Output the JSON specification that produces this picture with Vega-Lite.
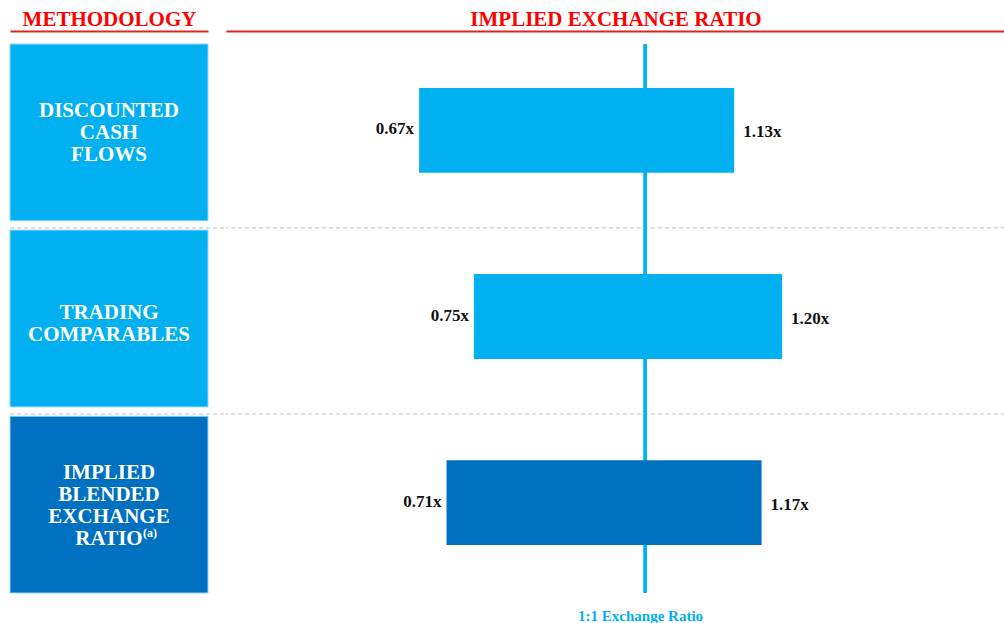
{
  "$schema": "https://vega.github.io/schema/vega-lite/v6.json",
  "padding": {"left": 9, "top": 8, "right": 0, "bottom": 0},
  "bounds": "flush",
  "spacing": 18,
  "config": {"view": {"stroke": null}, "font": "Liberation Serif"},
  "data": {
    "values": [
      {"method": "Discounted Cash Flows", "label": "DISCOUNTED\nCASH\nFLOWS", "lines": 3, "kind": "Component", "low": 0.67, "high": 1.13, "lowLabel": "0.67x", "highLabel": "1.13x"},
      {"method": "Trading Comparables", "label": "TRADING\nCOMPARABLES", "lines": 2, "kind": "Component", "low": 0.75, "high": 1.20, "lowLabel": "0.75x", "highLabel": "1.20x"},
      {"method": "Implied Blended Exchange Ratio", "label": "IMPLIED\nBLENDED\nEXCHANGE\nRATIO", "lines": 4, "note": "(a)", "kind": "Blended", "low": 0.71, "high": 1.17, "lowLabel": "0.71x", "highLabel": "1.17x"}
    ]
  },
  "hconcat": [
    {
      "width": 198,
      "height": 549,
      "resolve": {"axis": {"x": "independent"}},
      "layer": [
        {
          "transform": [{"filter": "datum.kind == 'Component'"}],
          "mark": {"type": "rule", "strokeDash": [4, 3], "color": "#d6d6d6", "strokeWidth": 1.5, "yOffset": 7, "x2Offset": 18},
          "encoding": {
            "y": {"field": "method", "type": "nominal", "sort": null, "bandPosition": 1, "axis": null, "scale": {"paddingInner": 0.05, "paddingOuter": 0}},
            "x": {"datum": 0, "type": "quantitative", "axis": null},
            "x2": {"datum": 1}
          }
        },
        {
          "mark": {"type": "bar", "stroke": "#8fd8f5", "strokeWidth": 1},
          "encoding": {
            "y": {"field": "method", "type": "nominal", "sort": null, "axis": null},
            "x": {
              "datum": 0, "type": "quantitative", "scale": {"domain": [0, 1]},
              "axis": {"orient": "top", "offset": 13, "domainColor": "#e02424", "domainWidth": 2, "ticks": false, "labels": false, "grid": false, "title": "METHODOLOGY", "titleColor": "#ff0000", "titleFont": "Liberation Serif", "titleFontSize": 21, "titleFontWeight": "bold", "titlePadding": 2}
            },
            "x2": {"datum": 1},
            "color": {"field": "kind", "type": "nominal", "scale": {"domain": ["Component", "Blended"], "range": ["#00b0f0", "#0070c0"]}, "legend": null}
          }
        },
        {
          "transform": [{"filter": "datum.lines == 3"}],
          "mark": {"type": "text", "color": "white", "fontSize": 21, "fontWeight": "bold", "lineBreak": "\n", "lineHeight": 22, "dy": -21, "font": "Liberation Serif"},
          "encoding": {
            "y": {"field": "method", "type": "nominal", "sort": null, "axis": null},
            "x": {"datum": 0.5, "type": "quantitative", "axis": null},
            "text": {"field": "label"}
          }
        },
        {
          "transform": [{"filter": "datum.lines == 2"}],
          "mark": {"type": "text", "color": "white", "fontSize": 21, "fontWeight": "bold", "lineBreak": "\n", "lineHeight": 22, "dy": -6, "font": "Liberation Serif"},
          "encoding": {
            "y": {"field": "method", "type": "nominal", "sort": null, "axis": null},
            "x": {"datum": 0.5, "type": "quantitative", "axis": null},
            "text": {"field": "label"}
          }
        },
        {
          "transform": [{"filter": "datum.lines == 4"}],
          "mark": {"type": "text", "color": "white", "fontSize": 21, "fontWeight": "bold", "lineBreak": "\n", "lineHeight": 22, "dy": -32, "font": "Liberation Serif"},
          "encoding": {
            "y": {"field": "method", "type": "nominal", "sort": null, "axis": null},
            "x": {"datum": 0.5, "type": "quantitative", "axis": null},
            "text": {"field": "label"}
          }
        },
        {
          "transform": [{"filter": "datum.lines == 4"}],
          "mark": {"type": "text", "color": "white", "fontSize": 12, "fontWeight": "bold", "align": "left", "dx": 34, "dy": 28, "font": "Liberation Serif"},
          "encoding": {
            "y": {"field": "method", "type": "nominal", "sort": null, "axis": null},
            "x": {"datum": 0.5, "type": "quantitative", "axis": null},
            "text": {"field": "note"}
          }
        }
      ]
    },
    {
      "width": 779,
      "height": 549,
      "resolve": {"axis": {"x": "independent"}},
      "layer": [
        {
          "transform": [{"filter": "datum.kind == 'Component'"}],
          "mark": {"type": "rule", "strokeDash": [4, 3], "color": "#d6d6d6", "strokeWidth": 1.5, "yOffset": 7},
          "encoding": {
            "y": {"field": "method", "type": "nominal", "sort": null, "bandPosition": 1, "axis": null, "scale": {"paddingInner": 0.05, "paddingOuter": 0}}
          }
        },
        {
          "mark": {"type": "rule", "color": "#00b0f0", "strokeWidth": 3},
          "encoding": {
            "x": {
              "datum": 1, "type": "quantitative", "scale": {"domain": [0.388, 1.5255], "nice": false, "zero": false},
              "axis": {"orient": "bottom", "values": [1], "labelExpr": "'1:1 Exchange Ratio'", "domain": false, "ticks": false, "grid": false, "title": null, "labelColor": "#00b0f0", "labelFont": "Liberation Serif", "labelFontSize": 15, "labelFontWeight": "bold", "labelPadding": 15, "labelOffset": -5}
            }
          }
        },
        {
          "mark": {"type": "bar", "height": {"band": 0.48}, "yOffset": -2},
          "encoding": {
            "y": {"field": "method", "type": "nominal", "sort": null, "axis": null},
            "x": {
              "field": "low", "type": "quantitative",
              "axis": {"orient": "top", "offset": 13, "domainColor": "#e02424", "domainWidth": 2, "ticks": false, "labels": false, "grid": false, "title": "IMPLIED EXCHANGE RATIO", "titleColor": "#ff0000", "titleFont": "Liberation Serif", "titleFontSize": 21, "titleFontWeight": "bold", "titlePadding": 2}
            },
            "x2": {"field": "high"},
            "color": {"field": "kind", "type": "nominal", "scale": {"domain": ["Component", "Blended"], "range": ["#00b0f0", "#0070c0"]}, "legend": null}
          }
        },
        {
          "mark": {"type": "text", "align": "right", "dx": -5, "dy": -3, "fontSize": 17, "fontWeight": "bold", "color": "#111111", "font": "Liberation Serif"},
          "encoding": {
            "y": {"field": "method", "type": "nominal", "sort": null, "axis": null},
            "x": {"field": "low", "type": "quantitative", "axis": null},
            "text": {"field": "lowLabel"}
          }
        },
        {
          "mark": {"type": "text", "align": "left", "dx": 9, "fontSize": 17, "fontWeight": "bold", "color": "#111111", "font": "Liberation Serif"},
          "encoding": {
            "y": {"field": "method", "type": "nominal", "sort": null, "axis": null},
            "x": {"field": "high", "type": "quantitative", "axis": null},
            "text": {"field": "highLabel"}
          }
        }
      ]
    }
  ]
}
